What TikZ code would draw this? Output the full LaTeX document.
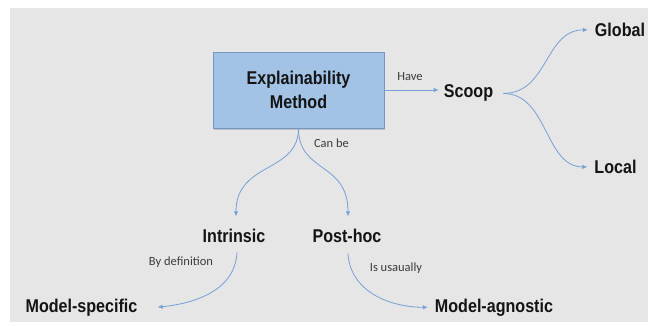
\documentclass[tikz,border=0pt]{standalone}
\usepackage{fontspec}
\usetikzlibrary{arrows.meta,shadows}
\newfontfamily\lblfont[FakeStretch=0.87]{Liberation Sans}
\newfontfamily\smallfont{Carlito}
\definecolor{bggray}{HTML}{E6E6E6}
\definecolor{boxfill}{HTML}{A2C2E6}
\definecolor{boxline}{HTML}{7896C4}
\definecolor{arrblue}{HTML}{76A0D6}
\definecolor{labgray}{HTML}{3C3C3C}
\definecolor{txtblack}{HTML}{141414}
\tikzset{
  mainlbl/.style={font=\lblfont\bfseries\fontsize{18.5}{21}\selectfont, text=txtblack, inner sep=0pt, anchor=base},
  boxnode/.style={draw=boxline, line width=0.8pt, fill=boxfill, minimum width=171pt, minimum height=76pt,
    align=center, font=\lblfont\bfseries\fontsize{18.5}{24}\selectfont, text=txtblack,
    drop shadow={shadow xshift=1pt, shadow yshift=-2.5pt, fill=black!35, opacity=0.6}},
  smalllbl/.style={font=\smallfont\fontsize{12.5}{14}\selectfont, text=labgray, inner sep=0pt},
  conn/.style={draw=arrblue, line width=0.8pt, -{Latex[length=5pt,width=4.5pt]}}
}
\begin{document}
\begin{tikzpicture}[x=1pt,y=-1pt]
\useasboundingbox (0,0) rectangle (648,326);
\fill[white] (0,0) rectangle (648,326);
\fill[bggray] (10,8) rectangle (648,322);

\node[boxnode] (em) at (298.5,90) {Explainability\\Method};

\node[mainlbl] (scoop) at (468.5,98) {Scoop};
\node[mainlbl] (global) at (620,36.5) {Global};
\node[mainlbl] (local) at (615.5,173.5) {Local};
\node[mainlbl] (intrinsic) at (234,242) {Intrinsic};
\node[mainlbl] (posthoc) at (347,242) {Post-hoc};
\node[mainlbl] (mspec) at (81.5,312) {Model-specific};
\node[mainlbl] (magn) at (494,312) {Model-agnostic};

\node[smalllbl] (have) at (410,77) {Have};
\node[smalllbl] (canbe) at (331.5,143) {Can be};
\node[smalllbl] (bydef) at (181,262) {By definition};
\node[smalllbl] (isus) at (396,268) {Is usaually};

\draw[conn] (em.east) -- ([xshift=-5pt]em.east -| scoop.west);
\draw[conn] ([xshift=10pt]scoop.east) .. controls +(45,0) and +(-43,0) .. ([xshift=-7pt]global.west);
\draw[conn] ([xshift=10pt]scoop.east) .. controls +(45,0) and +(-43,0) .. ([xshift=-7pt]local.west);
\draw[conn] (em.south) .. controls +(0,45) and +(0,-55) .. ([xshift=2pt,yshift=12pt]intrinsic.north);
\draw[conn] (em.south) .. controls +(0,45) and +(0,-55) .. ([xshift=1pt,yshift=12pt]posthoc.north);
\draw[conn] ([xshift=3pt,yshift=-10pt]intrinsic.south) .. controls +(-2,38) and +(38,-4) .. ([xshift=20pt]mspec.east);
\draw[conn] ([xshift=1pt,yshift=-11pt]posthoc.south) .. controls +(2,38) and +(-38,0) .. ([xshift=-7pt]magn.west);
\end{tikzpicture}
\end{document}
